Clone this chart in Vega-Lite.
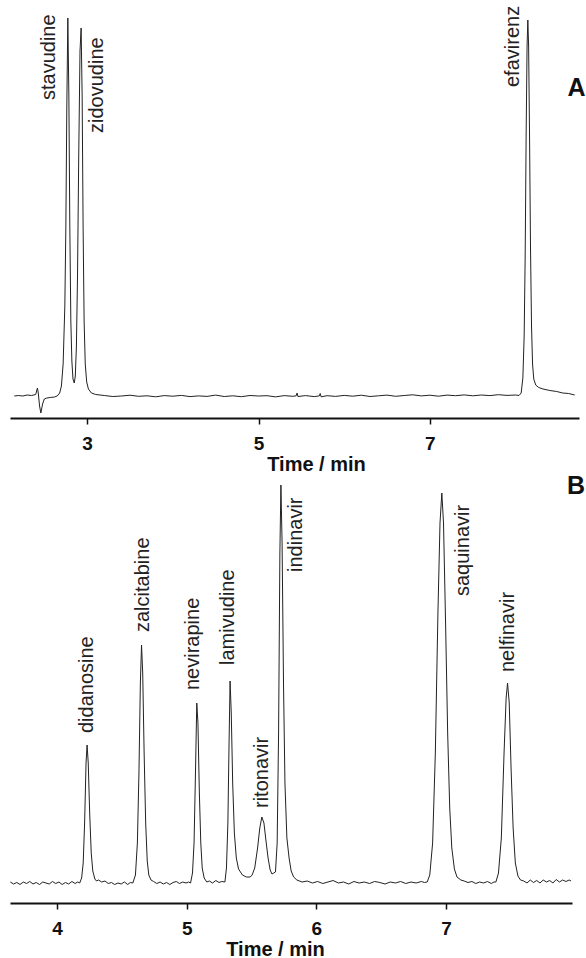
{
  "$schema": "https://vega.github.io/schema/vega-lite/v6.json",
  "padding": {"left": 8, "top": 2, "right": 0, "bottom": 2},
  "autosize": {"type": "pad"},
  "background": "white",
  "config": {
    "view": {"stroke": null},
    "font": "Liberation Sans",
    "axis": {
      "grid": false,
      "domainColor": "#111",
      "domainWidth": 2,
      "tickColor": "#111",
      "tickWidth": 1.5,
      "tickSize": 6,
      "labelFont": "Liberation Sans",
      "labelFontSize": 19,
      "labelFontWeight": "bold",
      "labelColor": "#111",
      "labelPadding": 10,
      "titleFont": "Liberation Sans",
      "titleFontSize": 20,
      "titleFontWeight": "bold",
      "titleColor": "#111",
      "titlePadding": 1
    }
  },
  "datasets": {
    "traceA": [
      {"time": 2.15, "signal": 0}, {"time": 2.2, "signal": 0.5}, {"time": 2.25, "signal": 0}, {"time": 2.3, "signal": 1},
      {"time": 2.35, "signal": 0.5}, {"time": 2.4, "signal": 1.5}, {"time": 2.42, "signal": 8}, {"time": 2.43, "signal": 3},
      {"time": 2.445, "signal": -10}, {"time": 2.46, "signal": -17}, {"time": 2.48, "signal": -8}, {"time": 2.5, "signal": -3},
      {"time": 2.53, "signal": -2}, {"time": 2.57, "signal": -1.5}, {"time": 2.62, "signal": -1}, {"time": 2.65, "signal": 0},
      {"time": 2.68, "signal": 3}, {"time": 2.70, "signal": 10}, {"time": 2.72, "signal": 32}, {"time": 2.74, "signal": 90},
      {"time": 2.752, "signal": 170}, {"time": 2.763, "signal": 290}, {"time": 2.775, "signal": 378}, {"time": 2.787, "signal": 300},
      {"time": 2.798, "signal": 170}, {"time": 2.81, "signal": 75}, {"time": 2.822, "signal": 35}, {"time": 2.835, "signal": 17},
      {"time": 2.85, "signal": 13}, {"time": 2.862, "signal": 20}, {"time": 2.875, "signal": 50}, {"time": 2.888, "signal": 120},
      {"time": 2.902, "signal": 240}, {"time": 2.917, "signal": 345}, {"time": 2.93, "signal": 368}, {"time": 2.942, "signal": 300},
      {"time": 2.953, "signal": 170}, {"time": 2.965, "signal": 75}, {"time": 2.978, "signal": 32}, {"time": 2.995, "signal": 14},
      {"time": 3.015, "signal": 7}, {"time": 3.05, "signal": 3}, {"time": 3.1, "signal": 1.5}, {"time": 3.2, "signal": 0.5},
      {"time": 3.3, "signal": -0.5}, {"time": 3.4, "signal": 0}, {"time": 3.5, "signal": 0.8}, {"time": 3.6, "signal": -0.3},
      {"time": 3.7, "signal": 0.2}, {"time": 3.8, "signal": -0.8}, {"time": 3.9, "signal": 0.4}, {"time": 4.0, "signal": -0.2},
      {"time": 4.1, "signal": 0.6}, {"time": 4.2, "signal": -0.6}, {"time": 4.3, "signal": 0.1}, {"time": 4.4, "signal": -0.4},
      {"time": 4.5, "signal": 0.9}, {"time": 4.6, "signal": -0.5}, {"time": 4.7, "signal": 0.2}, {"time": 4.8, "signal": -0.7},
      {"time": 4.9, "signal": 0.5}, {"time": 5.0, "signal": 0}, {"time": 5.1, "signal": 0.3}, {"time": 5.2, "signal": -0.9},
      {"time": 5.3, "signal": 0.4}, {"time": 5.4, "signal": -0.3}, {"time": 5.44, "signal": 0.2}, {"time": 5.45, "signal": 3},
      {"time": 5.46, "signal": -0.5}, {"time": 5.55, "signal": 0.4}, {"time": 5.65, "signal": -0.6}, {"time": 5.71, "signal": 0.1},
      {"time": 5.72, "signal": 2.5}, {"time": 5.73, "signal": -0.8}, {"time": 5.8, "signal": 0.3}, {"time": 5.9, "signal": -0.4},
      {"time": 6.0, "signal": 0.6}, {"time": 6.1, "signal": -0.2}, {"time": 6.2, "signal": 0.8}, {"time": 6.3, "signal": -0.5},
      {"time": 6.4, "signal": 0.2}, {"time": 6.5, "signal": 0.9}, {"time": 6.6, "signal": -0.3}, {"time": 6.7, "signal": 0.5},
      {"time": 6.8, "signal": 1.2}, {"time": 6.9, "signal": 0.1}, {"time": 7.0, "signal": 0.8}, {"time": 7.1, "signal": -0.2},
      {"time": 7.2, "signal": 0.9}, {"time": 7.3, "signal": 0.3}, {"time": 7.4, "signal": 1.1}, {"time": 7.5, "signal": 0.2},
      {"time": 7.6, "signal": 1.0}, {"time": 7.7, "signal": 0.4}, {"time": 7.8, "signal": 1.3}, {"time": 7.9, "signal": 0.6},
      {"time": 8.0, "signal": 1.0}, {"time": 8.04, "signal": 0.5}, {"time": 8.065, "signal": 3}, {"time": 8.085, "signal": 18},
      {"time": 8.1, "signal": 60}, {"time": 8.112, "signal": 140}, {"time": 8.123, "signal": 260}, {"time": 8.134, "signal": 350},
      {"time": 8.143, "signal": 376}, {"time": 8.152, "signal": 350}, {"time": 8.163, "signal": 260}, {"time": 8.174, "signal": 150},
      {"time": 8.186, "signal": 70}, {"time": 8.198, "signal": 32}, {"time": 8.212, "signal": 17}, {"time": 8.235, "signal": 11},
      {"time": 8.27, "signal": 8.5}, {"time": 8.32, "signal": 7}, {"time": 8.4, "signal": 5.5}, {"time": 8.48, "signal": 4.5},
      {"time": 8.55, "signal": 3}, {"time": 8.62, "signal": 2.5}, {"time": 8.69, "signal": 1}
    ],
    "traceB": [
      {"time": 3.64, "signal": 1}, {"time": 3.665, "signal": -1}, {"time": 3.69, "signal": 0.5}, {"time": 3.715, "signal": -1.5},
      {"time": 3.74, "signal": 1}, {"time": 3.765, "signal": -0.5}, {"time": 3.79, "signal": 1.5}, {"time": 3.815, "signal": -1},
      {"time": 3.84, "signal": 0.5}, {"time": 3.865, "signal": -1.5}, {"time": 3.89, "signal": 1}, {"time": 3.915, "signal": 0},
      {"time": 3.94, "signal": -1}, {"time": 3.965, "signal": 1.5}, {"time": 3.99, "signal": -0.5}, {"time": 4.015, "signal": 1},
      {"time": 4.04, "signal": -1.5}, {"time": 4.065, "signal": 0.5}, {"time": 4.09, "signal": -1}, {"time": 4.115, "signal": 1.5},
      {"time": 4.14, "signal": -0.5}, {"time": 4.16, "signal": 1}, {"time": 4.175, "signal": 0},
      {"time": 4.19, "signal": 5}, {"time": 4.202, "signal": 20}, {"time": 4.213, "signal": 60}, {"time": 4.224, "signal": 120},
      {"time": 4.232, "signal": 138}, {"time": 4.241, "signal": 120}, {"time": 4.252, "signal": 70}, {"time": 4.264, "signal": 30},
      {"time": 4.276, "signal": 12}, {"time": 4.292, "signal": 4}, {"time": 4.305, "signal": 2},
      {"time": 4.32, "signal": 3}, {"time": 4.345, "signal": 1}, {"time": 4.37, "signal": 2}, {"time": 4.395, "signal": -0.5},
      {"time": 4.42, "signal": 0.5}, {"time": 4.445, "signal": -1.5}, {"time": 4.47, "signal": 0}, {"time": 4.495, "signal": -1},
      {"time": 4.52, "signal": 1}, {"time": 4.545, "signal": -1.5}, {"time": 4.565, "signal": 0.5}, {"time": 4.585, "signal": 0},
      {"time": 4.605, "signal": 8}, {"time": 4.62, "signal": 40}, {"time": 4.632, "signal": 110}, {"time": 4.643, "signal": 200},
      {"time": 4.652, "signal": 238}, {"time": 4.661, "signal": 210}, {"time": 4.672, "signal": 130}, {"time": 4.684, "signal": 60},
      {"time": 4.696, "signal": 22}, {"time": 4.708, "signal": 8}, {"time": 4.725, "signal": 3},
      {"time": 4.745, "signal": 1.5}, {"time": 4.77, "signal": -0.5}, {"time": 4.795, "signal": 1}, {"time": 4.82, "signal": -1},
      {"time": 4.845, "signal": 0.5}, {"time": 4.87, "signal": -1.5}, {"time": 4.895, "signal": 0.5}, {"time": 4.92, "signal": 1.5},
      {"time": 4.945, "signal": -0.5}, {"time": 4.97, "signal": 1}, {"time": 4.995, "signal": 0}, {"time": 5.015, "signal": 1},
      {"time": 5.03, "signal": 0}, {"time": 5.045, "signal": 10}, {"time": 5.057, "signal": 40}, {"time": 5.068, "signal": 110},
      {"time": 5.078, "signal": 180}, {"time": 5.087, "signal": 160}, {"time": 5.098, "signal": 90}, {"time": 5.109, "signal": 40},
      {"time": 5.12, "signal": 15}, {"time": 5.135, "signal": 5}, {"time": 5.155, "signal": 1},
      {"time": 5.175, "signal": 2}, {"time": 5.2, "signal": 0}, {"time": 5.225, "signal": 2.5}, {"time": 5.25, "signal": 0.5},
      {"time": 5.27, "signal": 1.5}, {"time": 5.295, "signal": 1},
      {"time": 5.307, "signal": 15}, {"time": 5.318, "signal": 60}, {"time": 5.327, "signal": 140}, {"time": 5.335, "signal": 202},
      {"time": 5.344, "signal": 170}, {"time": 5.355, "signal": 100}, {"time": 5.368, "signal": 50}, {"time": 5.383, "signal": 25},
      {"time": 5.4, "signal": 14}, {"time": 5.43, "signal": 8}, {"time": 5.46, "signal": 6}, {"time": 5.49, "signal": 6},
      {"time": 5.505, "signal": 8}, {"time": 5.525, "signal": 15}, {"time": 5.547, "signal": 35}, {"time": 5.564, "signal": 55},
      {"time": 5.58, "signal": 66}, {"time": 5.596, "signal": 60}, {"time": 5.612, "signal": 42}, {"time": 5.628, "signal": 25},
      {"time": 5.644, "signal": 13}, {"time": 5.658, "signal": 9}, {"time": 5.672, "signal": 10},
      {"time": 5.685, "signal": 11}, {"time": 5.698, "signal": 40}, {"time": 5.709, "signal": 150}, {"time": 5.719, "signal": 330},
      {"time": 5.727, "signal": 398}, {"time": 5.736, "signal": 340}, {"time": 5.747, "signal": 200}, {"time": 5.758, "signal": 100},
      {"time": 5.773, "signal": 45}, {"time": 5.79, "signal": 25}, {"time": 5.806, "signal": 12}, {"time": 5.825, "signal": 6},
      {"time": 5.85, "signal": 3},
      {"time": 5.89, "signal": 1}, {"time": 5.93, "signal": 2}, {"time": 5.97, "signal": 0}, {"time": 6.01, "signal": 1.5},
      {"time": 6.05, "signal": -0.5}, {"time": 6.09, "signal": 1}, {"time": 6.13, "signal": 2.5}, {"time": 6.17, "signal": 0},
      {"time": 6.21, "signal": 1}, {"time": 6.25, "signal": -1}, {"time": 6.29, "signal": 1.5}, {"time": 6.33, "signal": 0},
      {"time": 6.37, "signal": 1}, {"time": 6.41, "signal": -0.5}, {"time": 6.45, "signal": 1.5}, {"time": 6.49, "signal": 0.5},
      {"time": 6.53, "signal": -1}, {"time": 6.57, "signal": 1}, {"time": 6.61, "signal": 0}, {"time": 6.65, "signal": 1.5},
      {"time": 6.69, "signal": -0.5}, {"time": 6.73, "signal": 1}, {"time": 6.77, "signal": 0}, {"time": 6.81, "signal": 1.5},
      {"time": 6.835, "signal": 0.5}, {"time": 6.855, "signal": 1},
      {"time": 6.875, "signal": 8}, {"time": 6.897, "signal": 40}, {"time": 6.918, "signal": 130}, {"time": 6.938, "signal": 270},
      {"time": 6.954, "signal": 360}, {"time": 6.968, "signal": 390}, {"time": 6.981, "signal": 360}, {"time": 6.997, "signal": 260},
      {"time": 7.013, "signal": 150}, {"time": 7.029, "signal": 75}, {"time": 7.045, "signal": 35}, {"time": 7.065, "signal": 14},
      {"time": 7.085, "signal": 6}, {"time": 7.115, "signal": 3},
      {"time": 7.14, "signal": 2}, {"time": 7.17, "signal": 0.5}, {"time": 7.2, "signal": 1.5}, {"time": 7.23, "signal": -0.5},
      {"time": 7.26, "signal": 1}, {"time": 7.29, "signal": 0}, {"time": 7.32, "signal": 1.5}, {"time": 7.35, "signal": -0.5},
      {"time": 7.37, "signal": 1}, {"time": 7.385, "signal": 1},
      {"time": 7.405, "signal": 10}, {"time": 7.427, "signal": 45}, {"time": 7.448, "signal": 130}, {"time": 7.464, "signal": 185},
      {"time": 7.475, "signal": 200}, {"time": 7.488, "signal": 180}, {"time": 7.502, "signal": 115}, {"time": 7.518, "signal": 55},
      {"time": 7.535, "signal": 20}, {"time": 7.555, "signal": 7}, {"time": 7.575, "signal": 3},
      {"time": 7.6, "signal": 2}, {"time": 7.625, "signal": 0}, {"time": 7.65, "signal": 3}, {"time": 7.675, "signal": 0.5},
      {"time": 7.7, "signal": 2.5}, {"time": 7.725, "signal": 0}, {"time": 7.75, "signal": 3}, {"time": 7.775, "signal": 1},
      {"time": 7.8, "signal": 2.5}, {"time": 7.825, "signal": 0}, {"time": 7.85, "signal": 3.5}, {"time": 7.875, "signal": 1},
      {"time": 7.9, "signal": 3}, {"time": 7.925, "signal": 1.5}, {"time": 7.95, "signal": 3}, {"time": 7.965, "signal": 2}
    ],
    "labelsA": [
      {"name": "stavudine", "time": 2.56, "signal": 296},
      {"name": "zidovudine", "time": 3.12, "signal": 263},
      {"name": "efavirenz", "time": 7.97, "signal": 309}
    ],
    "labelsB": [
      {"name": "didanosine", "time": 4.235, "signal": 150},
      {"name": "zalcitabine", "time": 4.663, "signal": 251},
      {"name": "nevirapine", "time": 5.049, "signal": 193},
      {"name": "lamivudine", "time": 5.319, "signal": 218},
      {"name": "ritonavir", "time": 5.581, "signal": 75},
      {"name": "indinavir", "time": 5.843, "signal": 311},
      {"name": "saquinavir", "time": 7.131, "signal": 287},
      {"name": "nelfinavir", "time": 7.478, "signal": 211}
    ],
    "panelA": [{"panel": "A", "time": 8.712, "signal": 308}],
    "panelB": [{"panel": "B", "time": 8.003, "signal": 397}]
  },
  "spacing": 22,
  "bounds": "flush",
  "vconcat": [
    {
      "width": 569,
      "height": 416,
      "encoding": {
        "x": {"field": "time", "type": "quantitative",
              "scale": {"domain": [2.10, 8.74], "nice": false, "zero": false},
              "axis": {"values": [3, 5, 7], "format": "d", "title": "Time / min", "titleX": 306}},
        "y": {"field": "signal", "type": "quantitative",
              "scale": {"domain": [-22, 394], "nice": false, "zero": false},
              "axis": null}
      },
      "layer": [
        {"data": {"name": "traceA"}, "mark": {"type": "line", "color": "#222", "strokeWidth": 1}},
        {"data": {"name": "labelsA"},
         "mark": {"type": "text", "angle": 270, "align": "left", "baseline": "middle", "fontSize": 20, "color": "#222"},
         "encoding": {"text": {"field": "name"}}},
        {"data": {"name": "panelA"},
         "mark": {"type": "text", "fontSize": 25, "fontWeight": "bold", "color": "#111"},
         "encoding": {"text": {"field": "panel"}}}
      ]
    },
    {
      "width": 562,
      "height": 463,
      "encoding": {
        "x": {"field": "time", "type": "quantitative",
              "scale": {"domain": [3.6375, 7.972], "nice": false, "zero": false},
              "axis": {"values": [4, 5, 6, 7], "format": "d", "title": "Time / min", "titleX": 265}},
        "y": {"field": "signal", "type": "quantitative",
              "scale": {"domain": [-20, 443], "nice": false, "zero": false},
              "axis": null}
      },
      "layer": [
        {"data": {"name": "traceB"}, "mark": {"type": "line", "color": "#222", "strokeWidth": 1}},
        {"data": {"name": "labelsB"},
         "mark": {"type": "text", "angle": 270, "align": "left", "baseline": "middle", "fontSize": 20, "color": "#222"},
         "encoding": {"text": {"field": "name"}}},
        {"data": {"name": "panelB"},
         "mark": {"type": "text", "fontSize": 25, "fontWeight": "bold", "color": "#111"},
         "encoding": {"text": {"field": "panel"}}}
      ]
    }
  ]
}
